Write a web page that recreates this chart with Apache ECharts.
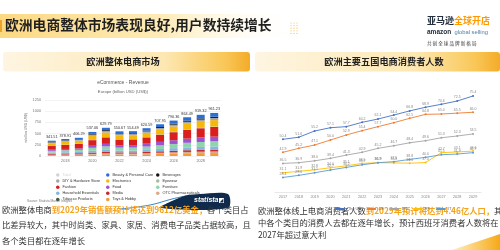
<!DOCTYPE html>
<html>
<head>
<meta charset="utf-8">
<script src="https://cdn.jsdelivr.net/npm/echarts@6/dist/echarts.min.js"></script>
<style>
  html, body { margin: 0; padding: 0; background: #fff; }
  #chart { width: 500px; height: 250px; }
</style>
</head>
<body>
<div id="chart"></div>
<script>
// left panel: eCommerce revenue, Europe, billion USD
const years = ['2017', '2018', '2019', '2020', '2021', '2022', '2023', '2024', '2025', '2026', '2027', '2028', '2029']
const totals = [341.51, 378.91, 406.29, 537.06, 629.79, 550.67, 554.49, 620.59, 707.95, 790.36, 864.49, 919.32, 961.23]
const beauty = [27, 30, 33, 44, 52, 46, 47, 53, 61, 68, 75, 80, 84]
const beverages = [9, 10, 11, 15, 18, 16, 16, 18, 21, 23, 25, 27, 28]
const diy = [18, 20, 21, 29, 34, 29, 29, 32, 36, 40, 43, 46, 48]
const electronics = [62, 67, 70, 90, 104, 88, 87, 96, 108, 120, 130, 138, 144]
const eyewear = [3, 3.5, 3.8, 5, 6, 5.5, 5.6, 6.2, 7, 7.8, 8.5, 9, 9.4]
const fashion = [82, 91, 97, 125, 145, 127, 127, 141, 160, 179, 195, 207, 216]
const food = [25, 29, 32, 46, 56, 52, 55, 63, 74, 84, 93, 99, 104]
const furniture = [40, 45, 48, 66, 77, 66, 66, 74, 84, 94, 103, 110, 115]
const household = [24, 27, 29, 40, 47, 41, 41, 46, 52, 58, 63, 67, 70]
const media = [22, 23, 24, 29, 32, 27, 27, 29, 32, 35, 38, 40, 42]
const otc = [10, 11, 12, 16, 20, 19, 20, 23, 26, 29, 32, 34, 36]
const tobacco = [1.5, 1.6, 1.7, 2.1, 2.4, 2.2, 2.2, 2.4, 2.6, 2.9, 3.1, 3.3, 3.4]
const toys = [18, 20.8, 23.8, 30, 36.4, 32, 31.7, 37, 44.4, 49.7, 55.9, 59, 61.4]
const revenueTicks = [0, 250, 500, 750, 1000, 1250]

// right panel: online shoppers, millions
const uk = [50.4, 51.6, 55.2, 57.1, 57.7, 60.2, 62.1, 64.4, 66.8, 68.9, 70.6, 72.5, 75.4]
const de = [42.9, 45.2, 47.1, 50.0, 52.9, 55.4, 57.7, 60.0, 62.5, 64.8, 65.0, 65.5, 66.0]
const fr = [36.5, 36.9, 38.0, 39.4, 41.3, 42.9, 45.2, 46.7, 48.4, 49.6, 51.3, 52.3, 53.5]
const es = [31.1, 31.9, 32.8, 34.0, 35.1, 36.5, 36.9, 36.8, 36.6, 37.0, 42.7, 43.1, 43.6]
const it = [28.4, 29.6, 31.1, 32.7, 34.2, 35.7, 36.9, 37.5, 38.8, 40.0, 41.5, 41.9, 42.7]

const stackSeries = [
  ['Toys & Hobby', toys, '#f39a35'],
  ['Tobacco Products', tobacco, '#3f5a46'],
  ['OTC Pharmaceuticals', otc, '#d8aa8c'],
  ['Media', media, '#c9272d'],
  ['Household Essentials', household, '#83b6e0'],
  ['Furniture', furniture, '#8fd4ae'],
  ['Food', food, '#9d52cf'],
  ['Fashion', fashion, '#d91e1e'],
  ['Eyewear', eyewear, '#a9b99f'],
  ['Electronics', electronics, '#f6b90b'],
  ['DIY & Hardware Store', diy, '#a3a3a3'],
  ['Beverages', beverages, '#141414'],
  ['Beauty & Personal Care', beauty, '#2b6fd6'],
]

const countries = [
  ['The UK', uk, '#4472c4'],
  ['DE', de, '#ed7d31'],
  ['FR', fr, '#a5a5a5'],
  ['ES', es, '#ffc000'],
  ['IT', it, '#5b9bd5'],
]

const chart = echarts.init(document.getElementById('chart'))
const G = echarts.graphic
const cjk = "'Noto Sans CJK SC', sans-serif"
const latin = "'Liberation Sans', Arial, sans-serif"

function headerFill() {
  return new G.LinearGradient(0, 0, 1, 0, [
    { offset: 0, color: '#fef5e2' },
    { offset: 0.65, color: '#fde8b4' },
    { offset: 0.9, color: '#f9c757' },
    { offset: 1, color: '#f4ab28' },
  ])
}

const dots = []
for (let c = 0; c < 3; c++) {
  for (let r = 0; r < 5; r++) {
    dots.push({ type: 'circle', shape: { cx: 291 + c * 3, cy: 23 + r * 2.6, r: 0.6 }, style: { fill: '#f3c46a' } })
  }
}

const series = stackSeries.map(function ([name, data, color]) {
  return {
    name,
    type: 'bar',
    stack: 'rev',
    xAxisIndex: 0,
    yAxisIndex: 0,
    barWidth: 8,
    data,
    itemStyle: { color },
  }
})
series[series.length - 1].label = {
  show: true,
  position: 'top',
  distance: 1.5,
  fontSize: 3.8,
  color: '#333',
  fontFamily: latin,
  formatter: (p) => totals[p.dataIndex].toFixed(2),
}
series.push({
  name: 'Total',
  type: 'line',
  xAxisIndex: 0,
  yAxisIndex: 0,
  data: totals,
  itemStyle: { color: '#cccccc' },
})

countries.forEach(function ([name, data, color]) {
  series.push({
    name,
    type: 'line',
    xAxisIndex: 1,
    yAxisIndex: 1,
    data,
    symbol: 'circle',
    symbolSize: 2,
    lineStyle: { width: 0.9, color },
    itemStyle: { color },
    label: {
      show: true,
      position: 'top',
      distance: 0.5,
      fontSize: 3.5,
      color: '#888',
      fontFamily: latin,
      formatter: (p) => p.value.toFixed(1),
    },
  })
})

const legendBase = {
  orient: 'vertical',
  top: 168,
  icon: 'circle',
  itemWidth: 3.5,
  itemHeight: 3.5,
  itemGap: 2.1,
  textStyle: { fontSize: 3.8, color: '#333', fontFamily: latin, padding: [0, 0, 0, -2] },
}

const options = {
  animation: false,
  textStyle: { fontFamily: latin },
  grid: [
    { left: 45, top: 100, width: 176, height: 56 },
    { left: 275, top: 88, width: 206, height: 104 },
  ],
  xAxis: [
    {
      gridIndex: 0,
      type: 'category',
      data: years,
      axisTick: { show: false },
      axisLine: { show: false },
      axisLabel: { fontSize: 3.8, color: '#777', margin: 3, interval: (i) => i % 2 === 1 },
    },
    {
      gridIndex: 1,
      type: 'category',
      data: years,
      axisTick: { show: false },
      axisLine: { lineStyle: { color: '#d9d9d9', width: 0.6 } },
      axisLabel: { fontSize: 3.8, color: '#888', margin: 3, interval: 0 },
    },
  ],
  yAxis: [
    {
      gridIndex: 0,
      type: 'value',
      min: revenueTicks[0],
      max: revenueTicks[revenueTicks.length - 1],
      interval: 250,
      name: 'in billion USD (US$)',
      nameLocation: 'middle',
      nameGap: 17,
      nameTextStyle: { fontSize: 3.4, color: '#777' },
      axisLabel: { fontSize: 3.8, color: '#777', margin: 4, formatter: (v) => String(v) },
      splitLine: { lineStyle: { color: '#e6e6e6', width: 0.5 } },
    },
    {
      gridIndex: 1,
      type: 'value',
      min: 20,
      max: 80,
      show: false,
      splitLine: { show: false },
    },
  ],
  legend: [
    Object.assign({}, legendBase, {
      left: 51,
      data: ['Total', 'DIY & Hardware Store', 'Fashion', 'Household Essentials', 'Tobacco Products'],
      selected: { Total: false },
    }),
    Object.assign({}, legendBase, {
      left: 101,
      data: ['Beauty & Personal Care', 'Electronics', 'Food', 'Media', 'Toys & Hobby'],
    }),
    Object.assign({}, legendBase, {
      left: 151,
      data: ['Beverages', 'Eyewear', 'Furniture', 'OTC Pharmaceuticals'],
    }),
    {
      orient: 'horizontal',
      left: 330,
      top: 202,
      itemWidth: 9,
      itemHeight: 3,
      itemGap: 5,
      data: countries.map((c) => c[0]),
      textStyle: { fontSize: 3.8, color: '#666', fontFamily: latin, padding: [0, 0, 0, -2] },
    },
  ],
  graphic: [
    // page title
    {
      type: 'rect',
      shape: { x: 0, y: 14, width: 300, height: 24 },
      style: {
        fill: new G.LinearGradient(0, 0, 1, 0, [
          { offset: 0, color: 'rgba(252,214,122,0.95)' },
          { offset: 0.55, color: 'rgba(253,232,172,0.85)' },
          { offset: 1, color: 'rgba(255,255,255,0)' },
        ]),
      },
    },
    { type: 'rect', shape: { x: 0, y: 20, width: 2, height: 12 }, style: { fill: '#e9a52a' } },
    ...dots,
    {
      type: 'text',
      left: 5,
      top: 18,
      style: { text: '欧洲电商整体市场表现良好,用户数持续增长', fill: '#1f1f1f', font: 'bold 13.8px ' + cjk },
    },
    // logo
    {
      type: 'text',
      left: 427,
      top: 16,
      style: {
        text: '{a|亚马逊}{b|全球开店}',
        rich: {
          a: { fill: '#232f3e', fontSize: 9, fontWeight: 'bold', fontFamily: cjk },
          b: { fill: '#ff9900', fontSize: 9, fontWeight: 'bold', fontFamily: cjk },
        },
      },
    },
    {
      type: 'text',
      left: 427,
      top: 26.5,
      style: {
        text: '{a|amazon} {b|global selling}',
        rich: {
          a: { fill: '#232f3e', fontSize: 6.5, fontWeight: 'bold', fontFamily: latin },
          b: { fill: '#4d7ea8', fontSize: 5.8, fontFamily: latin },
        },
      },
    },
    {
      type: 'text',
      left: 427,
      top: 40.5,
      style: { text: '共 创 全 球 品 牌 新 格 局', fill: '#333', font: '4.6px ' + cjk },
    },
    // panel headers
    { type: 'rect', shape: { x: 3, y: 52, width: 247, height: 19.5, r: 3 }, style: { fill: headerFill() } },
    { type: 'rect', shape: { x: 255, y: 52, width: 245, height: 19.5, r: 3 }, style: { fill: headerFill() } },
    {
      type: 'text',
      x: 123,
      y: 62,
      style: { text: '欧洲整体电商市场', fill: '#222', font: 'bold 9.2px ' + cjk, align: 'center', verticalAlign: 'middle' },
    },
    {
      type: 'text',
      x: 384,
      y: 62,
      style: { text: '欧洲主要五国电商消费者人数', fill: '#222', font: 'bold 9.2px ' + cjk, align: 'center', verticalAlign: 'middle' },
    },
    // statista chart titles
    {
      type: 'text',
      x: 123,
      y: 82.5,
      style: { text: 'eCommerce - Revenue', fill: '#555', font: '5px ' + latin, align: 'center', verticalAlign: 'middle' },
    },
    {
      type: 'text',
      x: 123,
      y: 91.5,
      style: { text: 'Europe (billion USD (US$))', fill: '#666', font: '4.2px ' + latin, align: 'center', verticalAlign: 'middle' },
    },
    {
      type: 'text',
      left: 27,
      top: 200,
      style: { text: 'Source: Statista Market Insights', fill: '#777', font: '3.2px ' + latin },
    },
    // statista badge
    {
      type: 'polyline',
      shape: { points: [[120, 209], [150, 205], [172, 199], [190, 195]], smooth: 0.4 },
      style: { stroke: '#3b82c4', lineWidth: 1, fill: null },
    },
    {
      type: 'polygon',
      shape: { points: [[160, 208], [172, 201], [186, 195.5], [200, 194], [228, 194], [228, 208]], smooth: 0.3 },
      style: { fill: '#0f2a4a' },
    },
    {
      type: 'text',
      left: 194,
      top: 197,
      style: { text: 'statista', fill: '#fff', font: 'italic bold 7px ' + latin },
    },
    { type: 'rect', shape: { x: 219, y: 198, width: 5, height: 5 }, style: { fill: '#fff' } },
    { type: 'polygon', shape: { points: [[219.6, 202.4], [223.4, 198.6], [223.4, 202.4]] }, style: { fill: '#0f2a4a' } },
    // body text
    {
      type: 'text',
      left: 2,
      top: 205.5,
      style: {
        text:
          '{n|欧洲整体电商}{o|到2029年销售额预计将达到9612亿美金，}{n|各个类目占}\n' +
          '{n|比差异较大，其中时尚类、家具、家居、消费电子品类占据较高，且}\n' +
          '{n|各个类目都在逐年增长}',
        rich: {
          n: { fill: '#333', fontSize: 8.3, lineHeight: 15.5, fontFamily: cjk },
          o: { fill: '#f5a31a', fontSize: 8.3, lineHeight: 15.5, fontWeight: 'bold', fontFamily: cjk },
        },
      },
    },
    {
      type: 'text',
      left: 258,
      top: 207,
      style: {
        text:
          '{n|欧洲整体线上电商消费者人数}{o|到2029年预计将达到4.46亿人口，}{n|其}\n' +
          '{n|中各个类目的消费人去都在逐年增长，预计西班牙消费者人数将在}\n' +
          '{n|2027年超过意大利}',
        rich: {
          n: { fill: '#333', fontSize: 8.3, lineHeight: 12, fontFamily: cjk },
          o: { fill: '#f5a31a', fontSize: 8.3, lineHeight: 12, fontWeight: 'bold', fontFamily: cjk },
        },
      },
    },
    // corner swoosh
    {
      type: 'polygon',
      shape: { points: [[452, 250], [500, 234], [500, 250]] },
      style: {
        fill: new G.LinearGradient(0, 0, 1, 0, [
          { offset: 0, color: 'rgba(250,190,40,0.3)' },
          { offset: 1, color: '#f6a817' },
        ]),
      },
    },
  ],
  series,
}

chart.setOption(options)
</script>
</body>
</html>
